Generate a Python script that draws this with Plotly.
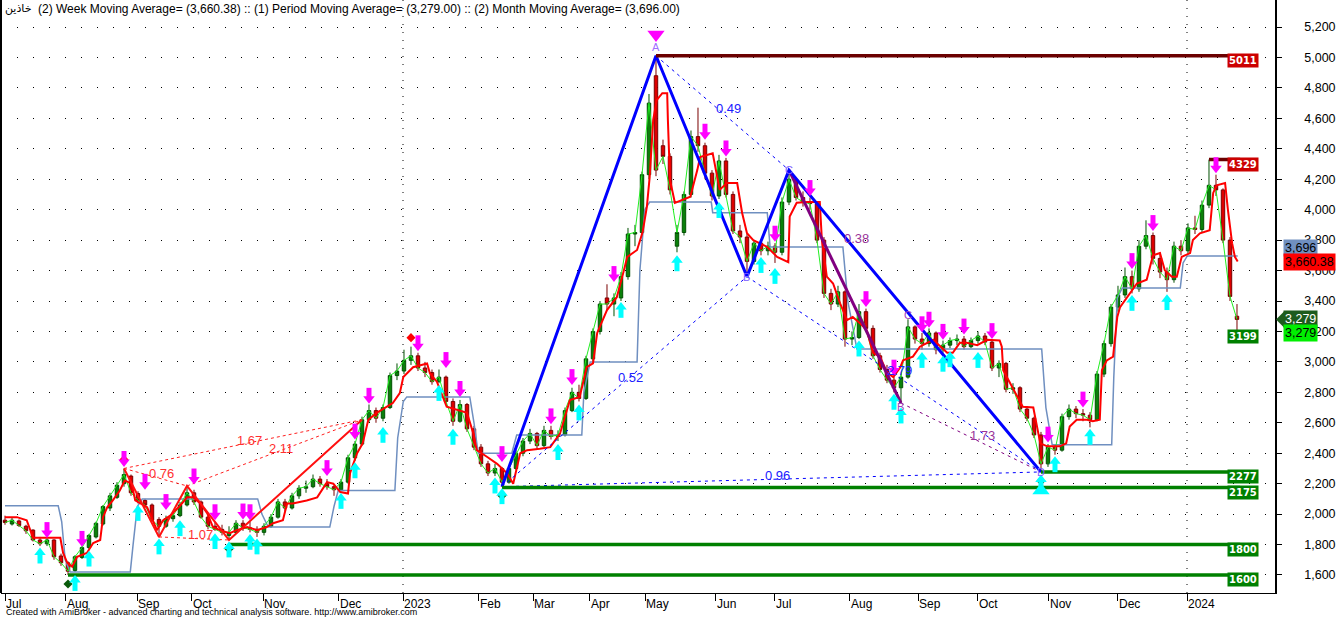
import plotly.graph_objects as go

# ---------------- DATA ----------------
# bars are sampled roughly every second trading day (bar index on x)
opens = [1960,1935,1955,1920,1895,1830,1805,1830,1725,1680,
         1630,1715,1780,1850,1935,2040,2110,2200,2250,2135,
         2090,2060,1965,1920,1970,1990,2060,2140,2080,1980,
         1920,1900,1860,1880,1940,1910,1900,1880,1920,1980,
         2080,2040,2120,2170,2180,2230,2200,2180,2160,2210,
         2370,2460,2620,2680,2630,2700,2910,2940,3010,3040,
         2960,2930,2870,2900,2740,2610,2720,2560,2440,2330,
         2270,2300,2210,2300,2400,2480,2530,2450,2550,2510,
         2520,2680,2800,2760,3020,3200,3420,3380,3420,3560,
         3840,3850,4230,4880,4420,4350,3760,3850,4100,4480,
         4420,4240,4090,4320,4100,3860,3820,3660,3780,3730,
         3760,3720,4050,4200,4080,4050,4040,3800,3450,3380,
         3460,3150,3160,3330,3220,3040,2950,2880,2830,2900,
         3230,3150,3120,3190,3080,3110,3140,3150,3100,3140,
         3170,3130,2960,2990,2820,2830,2690,2630,2520,2330,
         2440,2420,2640,2690,2660,2650,2620,2920,3120,3360,
         3440,3560,3480,3760,3830,3680,3590,3540,3760,3730,
         3880,3870,4030,4160,4130,3800,3300]
highs = [1990,1975,1965,1930,1900,1850,1840,1835,1740,1690,
         1730,1790,1870,1950,2060,2140,2210,2300,2260,2150,
         2100,2070,1980,1990,2020,2080,2185,2160,2090,1990,
         1950,1930,1920,1960,1960,1950,1920,1940,2000,2100,
         2100,2140,2190,2220,2260,2250,2230,2190,2230,2390,
         2480,2640,2720,2700,2720,2930,2990,3080,3100,3060,
         3000,2950,2950,2910,2760,2750,2730,2580,2460,2350,
         2330,2310,2320,2420,2500,2560,2540,2580,2580,2550,
         2700,2830,2850,3040,3220,3400,3510,3450,3590,3880,
         3900,4250,4760,5011,4460,4370,3900,4120,4520,4670,
         4440,4260,4360,4340,4120,3900,3840,3800,3800,3790,
         3780,4080,4260,4210,4120,4080,4050,3820,3480,3500,
         3470,3200,3380,3350,3240,3060,2980,2900,2920,3280,
         3240,3190,3220,3200,3140,3160,3180,3170,3160,3200,
         3190,3140,3010,3000,2860,2840,2710,2640,2540,2460,
         2460,2660,2720,2710,2690,2670,2940,3140,3380,3500,
         3620,3600,3800,3930,3850,3720,3620,3790,3800,3910,
         3960,4060,4329,4230,4140,3820,3380]
lows = [1930,1925,1915,1870,1820,1790,1790,1700,1660,1600,
        1620,1705,1770,1840,1925,2020,2100,2180,2120,2070,
        2040,1950,1850,1910,1950,1980,2050,2060,1970,1900,
        1890,1860,1830,1870,1890,1880,1850,1860,1910,1970,
        2020,2030,2100,2140,2170,2180,2160,2120,2150,2200,
        2350,2450,2600,2600,2610,2690,2880,2920,2980,2940,
        2900,2850,2860,2720,2580,2600,2540,2420,2310,2250,
        2250,2180,2200,2290,2380,2460,2430,2440,2490,2480,
        2510,2670,2740,2750,3000,3180,3340,3300,3400,3540,
        3760,3840,4200,4220,4300,4100,3720,3830,4080,4380,
        4200,4060,4070,4080,3840,3780,3560,3640,3700,3700,
        3650,3700,4030,4060,4020,4000,3780,3420,3340,3360,
        3100,3110,3150,3200,3020,2930,2860,2800,2730,2890,
        3120,3080,3100,3050,3060,3090,3110,3080,3090,3120,
        3110,2940,2900,2800,2790,2670,2610,2500,2277,2310,
        2390,2410,2620,2630,2610,2570,2610,2900,3100,3330,
        3420,3450,3460,3740,3640,3550,3460,3520,3700,3710,
        3840,3850,4010,4090,3780,3400,3199]
closes = [1945,1960,1925,1890,1830,1805,1830,1720,1680,1625,
          1720,1780,1860,1940,2050,2120,2190,2260,2140,2090,
          2060,1960,1920,1970,1990,2060,2140,2080,1980,1920,
          1900,1880,1880,1940,1910,1900,1880,1920,1980,2080,
          2040,2120,2170,2180,2230,2200,2180,2160,2210,2370,
          2460,2620,2680,2630,2700,2910,2940,3010,3040,2960,
          2930,2870,2900,2740,2610,2720,2560,2440,2330,2270,
          2300,2210,2300,2400,2480,2530,2450,2550,2510,2520,
          2680,2800,2760,3020,3200,3380,3380,3420,3560,3840,
          3850,4230,4700,4260,4350,4130,3850,4100,4480,4420,
          4240,4090,4320,4100,3860,3820,3660,3780,3730,3760,
          3720,4050,4200,4080,4050,4040,3800,3450,3380,3460,
          3150,3160,3330,3220,3040,2950,2880,2830,2900,3230,
          3150,3120,3190,3080,3110,3140,3150,3100,3140,3170,
          3130,2960,2990,2820,2830,2690,2630,2520,2330,2440,
          2420,2640,2690,2660,2650,2620,2920,3120,3360,3440,
          3560,3480,3760,3830,3680,3590,3540,3760,3730,3880,
          3870,4030,4160,4130,3800,3430,3279]

# Week moving average (red)
week_ma_bar = [0, 1.7, 3.1, 3.6, 4.0, 7.9, 8.3, 8.9, 9.6, 10.3,
               11.7, 12.6, 13.6, 14.0, 14.6, 15.4, 16.4, 17.1, 18.1, 18.6,
               19.3, 20.3, 21.1, 21.7, 22.6, 23.6, 25.0, 26.0, 26.9, 27.9,
               28.9, 29.7, 30.7, 32.1, 33.1, 34.6, 36.0, 37.4, 38.3, 39.7,
               40.3, 41.1, 43.1, 44.6, 46.0, 46.9, 47.9, 49.0, 49.3, 50.3,
               51.1, 51.9, 53.1, 54.6, 55.4, 56.4, 56.9, 58.3, 60.3, 60.7,
               61.7, 63.1, 64.6, 66.0, 66.9, 67.4, 68.9, 70.3, 71.7, 72.6,
               73.6, 74.6, 76.4, 77.9, 79.3, 80.7, 82.1, 83.1, 84.0, 84.6,
               86.0, 87.4, 88.3, 88.9, 90.3, 91.1, 91.7, 92.1, 92.6, 93.1,
               93.9, 94.6, 94.7, 95.0, 95.7, 96.7, 97.9, 98.9, 99.3, 101.1,
               101.7, 102.1, 103.1, 104.6, 105.3, 106.0, 106.9, 108.9, 110.3, 111.9,
               112.1, 113.1, 114.6, 116.4, 116.7, 117.4, 118.3, 119.3, 120.3, 121.1,
               122.1, 123.1, 124.0, 125.0, 126.0, 126.9, 127.9, 128.3, 129.7, 130.7,
               132.6, 134.6, 135.4, 136.4, 137.4, 138.9, 140.3, 142.1, 142.4, 142.6,
               143.6, 144.6, 145.4, 146.9, 147.4, 147.9, 148.9, 150.7, 151.6, 152.1,
               153.1, 154.6, 155.4, 156.4, 156.7, 157.4, 158.3, 158.9, 159.3, 160.3,
               161.7, 163.1, 164.0, 165.0, 165.7, 166.7, 167.4, 168.1, 169.3, 169.7,
               170.7, 172.1, 172.6, 173.1, 174.3, 174.7, 175.3, 175.7, 176.1]
week_ma_val = [1980, 1980, 1960, 1895, 1845, 1845, 1745, 1680, 1655, 1720,
               1745, 1810, 1830, 1980, 2045, 2090, 2155, 2220, 2200, 2090,
               2070, 2045, 1960, 1895, 1960, 1990, 2055, 2110, 2110, 2070,
               2005, 1915, 1895, 1875, 1895, 1915, 1895, 1915, 1940, 1960,
               2070, 2070, 2090, 2110, 2210, 2200, 2145, 2135, 2270, 2400,
               2465, 2620, 2665, 2705, 2730, 2795, 2900, 2965, 2990, 2925,
               2870, 2705, 2685, 2665, 2530, 2420, 2375, 2330, 2270, 2200,
               2400, 2420, 2430, 2440, 2530, 2750, 2770, 2965, 2990, 3190,
               3340, 3425, 3580, 3690, 3735, 3855, 4020, 4215, 4590, 4720,
               4765, 4765, 4590, 4195, 4045, 4065, 4085, 4260, 4345, 4370,
               4215, 4130, 4175, 4175, 3980, 3845, 3800, 3755, 3690, 3655,
               3955, 4045, 4050, 4050, 3800, 3560, 3515, 3385, 3275, 3295,
               3255, 3210, 3060, 3035, 2930, 2900, 2965, 3010, 3035, 3100,
               3145, 3060, 3060, 3125, 3125, 3110, 3145, 3140, 3100, 2945,
               2860, 2770, 2705, 2700, 2575, 2465, 2445, 2445, 2465, 2575,
               2620, 2620, 2610, 2620, 2945, 3010, 3035, 3295, 3360, 3425,
               3515, 3540, 3700, 3715, 3600, 3560, 3560, 3690, 3715, 3800,
               3845, 3865, 4110, 4160, 4175, 4000, 3780, 3690, 3660]

# Month moving average (steel blue, step-like)
month_ma_bar = [0, 7.6, 8.1, 8.6, 9.3, 17.9, 18.3, 18.9, 19.6, 36.1,
                36.7, 37.6, 46.4, 47.0, 47.6, 55.7, 56.1, 56.9, 57.4, 66.4,
                67.0, 67.6, 72.4, 73.1, 82.4, 82.7, 83.6, 90.3, 90.7, 91.4,
                92.1, 100.9, 101.1, 108.9, 109.3, 119.7, 120.4, 121.7, 148.1, 148.7,
                149.6, 158.1, 158.4, 158.9, 159.6, 167.9, 168.3, 168.9, 176.1]
month_ma_val = [2055, 2055, 1950, 1700, 1620, 1620, 1800, 2050, 2100, 2100,
                2000, 1915, 1915, 2050, 2155, 2155, 2500, 2740, 2770, 2770,
                2600, 2400, 2400, 2520, 2520, 2800, 3000, 3000, 3600, 4000,
                4050, 4050, 3980, 3980, 3755, 3755, 3400, 3085, 3085, 2700,
                2455, 2455, 2900, 3420, 3485, 3485, 3650, 3696, 3696]

# x axis month ticks (bar index where each month starts)
month_tick_pos = [0, 8.71, 18.86, 26.71, 36.86, 47.71, 56.86, 67.71, 75.43, 83.57,
                  91.43, 101.57, 110, 120.71, 130.43, 139, 149.14, 159, 168.86]
month_tick_text = ["Jul", "Aug", "Sep", "Oct", "Nov", "Dec", "2023", "Feb", "Mar", "Apr",
                   "May", "Jun", "Jul", "Aug", "Sep", "Oct", "Nov", "Dec", "2024"]
year_tick_pos = [56.86, 168.86]

# harmonic pattern (XABCD)
pat_bars = [71, 93, 106, 112, 148]
pat_prices = [2180, 5011, 3560, 4260, 2277]
pat_names = ["X", "A", "B", "C", "D"]
pat_ratio_pairs = [(0, 2, "0.52"), (1, 3, "0.49"), (2, 4, "2.79"), (0, 4, "0.96")]
# second (purple) leg
sub_bars = [112, 128]
sub_prices = [4260, 2730]
sub_c_bar, sub_c_price = 129, 3280
sub_ratio_labels = ["0.38", "1.73"]
# small red pattern on the left
red_pat_bars = [17, 22, 26, 32, 51]
red_pat_prices = [2300, 1850, 2185, 1830, 2620]
red_ratio_pairs = [(0, 2, "0.76"), (1, 3, "1.07"), (0, 4, "1.67"), (2, 4, "2.11")]

# pivot markers
pivot_low_bars = [9, 32, 71, 148]
pivot_high_bars = [17, 58]

# signal arrows (tip price)
sell_bars = [6, 11, 17, 20, 23, 27, 30, 34, 35, 46, 50, 52, 59, 63, 65, 71, 78, 81, 87,
             100, 103, 110, 115, 123, 127, 131, 132, 134, 137, 141, 149, 154, 161, 164, 173]
sell_tips = [1843, 1785, 2310, 2160, 2027, 2195, 1960, 1965, 1960, 2250, 2490, 2725, 3070, 2960,
             2770, 2342, 2590, 2848, 3525, 4460, 4350, 3790, 4090, 3360, 2910, 3195, 3225, 3145,
             3180, 3150, 2470, 2700, 3610, 3860, 4240]
buy_bars = [5, 10, 12, 19, 22, 25, 30, 32, 35, 36, 48, 50, 54, 62, 64, 70, 71, 79, 82, 88,
            96, 102, 108, 110, 122, 127, 128, 131, 134, 135, 139, 148, 150, 155, 161, 166]
buy_tips = [1780, 1600, 1760, 2060, 1840, 1960, 1875, 1820, 1870, 1840, 2139, 2340, 2573, 2848,
            2560, 2240, 2170, 2460, 2720, 3394, 3700, 4050, 3689, 3617, 3140, 2790, 2700, 3065,
            3040, 3070, 3065, 2260, 2380, 2560, 3440, 3445]
big_sell_bar, big_sell_tip = 93, 5101
big_buy_bar, big_buy_tip = 148, 2204

# support / resistance levels
level_values = [5011, 4329, 2277, 2175, 1800, 1600]
level_start = [93, 172, 148, 71, 32, 9]
level_colors = ["#6b0000", "#6b0000", "#008000", "#008000", "#008000", "#008000"]
level_label_bg = ["#cc0000", "#cc0000", "#008000", "#008000", "#008000", "#008000"]
last_low_label = 3199

week_ma_last, period_ma_last, month_ma_last = 3660.38, 3279.00, 3696.00
ticker = "خاذین"

# ---------------- LAYOUT GEOMETRY ----------------
W, H = 1336, 619
ML, MR, MT, MB = 1, 61, 0, 26
PLOT_W = W - ML - MR
PLOT_H = H - MT - MB
Y_MIN, Y_MAX = 1481.7, 5377.4
X_MIN, X_MAX = -0.571, 181.43
PY = (Y_MAX - Y_MIN) / PLOT_H          # price units per pixel
n = len(closes)
x = list(range(n))
x_end = n - 1 + 0.45
FONT = "Liberation Sans, Arial"


def px_to_paper_x(p):
    return (p - ML) / PLOT_W


def px_to_paper_y(p):
    return (H - MB - p) / PLOT_H


fig = go.Figure()

# month MA
fig.add_trace(go.Scatter(x=month_ma_bar, y=month_ma_val, mode="lines",
                         line=dict(color="#6f8fc0", width=1.5), hoverinfo="skip"))
# period MA (close)
fig.add_trace(go.Scatter(x=x, y=closes, mode="lines",
                         line=dict(color="#22ee22", width=1), hoverinfo="skip"))
# candles
fig.add_trace(go.Candlestick(x=x, open=opens, high=highs, low=lows, close=closes,
                             increasing=dict(line=dict(color="#005000", width=1), fillcolor="#0a800a"),
                             decreasing=dict(line=dict(color="#7a0000", width=1), fillcolor="#dd0000"),
                             whiskerwidth=0, hoverinfo="skip"))
# week MA
fig.add_trace(go.Scatter(x=week_ma_bar, y=week_ma_val, mode="lines",
                         line=dict(color="#ff0000", width=2), hoverinfo="skip"))

# red small pattern
fig.add_trace(go.Scatter(x=red_pat_bars, y=red_pat_prices, mode="lines",
                         line=dict(color="#ff1010", width=2), hoverinfo="skip"))
for i, j, lab in red_ratio_pairs:
    fig.add_trace(go.Scatter(x=[red_pat_bars[i], red_pat_bars[j]],
                             y=[red_pat_prices[i], red_pat_prices[j]], mode="lines",
                             line=dict(color="#ff2020", width=1, dash="3px,3px"), hoverinfo="skip"))
    fig.add_annotation(x=(red_pat_bars[i] + red_pat_bars[j]) / 2,
                       y=(red_pat_prices[i] + red_pat_prices[j]) / 2,
                       text=lab, showarrow=False, xshift=6, yshift=4,
                       font=dict(color="#ff3030", size=13, family=FONT))

# XABCD pattern
for i, j, lab in pat_ratio_pairs:
    fig.add_trace(go.Scatter(x=[pat_bars[i], pat_bars[j]], y=[pat_prices[i], pat_prices[j]],
                             mode="lines", line=dict(color="#0000ff", width=1, dash="3px,4px"),
                             hoverinfo="skip"))
    fig.add_annotation(x=(pat_bars[i] + pat_bars[j]) / 2, y=(pat_prices[i] + pat_prices[j]) / 2,
                       text=lab, showarrow=False, xshift=6, yshift=4,
                       font=dict(color="#2020ff", size=13, family=FONT))
fig.add_trace(go.Scatter(x=[sub_bars[1], pat_bars[4]], y=[sub_prices[1], pat_prices[4]],
                         mode="lines", line=dict(color="#800080", width=1, dash="3px,4px"),
                         hoverinfo="skip"))
fig.add_annotation(x=(sub_bars[1] + pat_bars[4]) / 2, y=(sub_prices[1] + pat_prices[4]) / 2,
                   text=sub_ratio_labels[1], showarrow=False, xshift=12, yshift=2,
                   font=dict(color="#993399", size=13, family=FONT))
fig.add_annotation(x=(pat_bars[3] + sub_c_bar) / 2, y=(pat_prices[3] + sub_c_price) / 2,
                   text=sub_ratio_labels[0], showarrow=False, xshift=8, yshift=6,
                   font=dict(color="#993399", size=13, family=FONT))
fig.add_trace(go.Scatter(x=sub_bars, y=sub_prices, mode="lines",
                         line=dict(color="#800080", width=3), hoverinfo="skip"))
fig.add_trace(go.Scatter(x=pat_bars, y=pat_prices, mode="lines",
                         line=dict(color="#0000ff", width=3), hoverinfo="skip"))
for b, p, nm in zip(pat_bars[2:], pat_prices[2:], pat_names[2:]):
    fig.add_annotation(x=b, y=p, text=nm, showarrow=False,
                       font=dict(color="#8060ff", size=11, family=FONT))
fig.add_annotation(x=sub_c_bar, y=sub_c_price, text="C", showarrow=False, yshift=4,
                   font=dict(color="#a040c0", size=11, family=FONT))
fig.add_annotation(x=sub_bars[1], y=sub_prices[1], text="B", showarrow=False, yshift=-4,
                   font=dict(color="#a040c0", size=11, family=FONT))

# level lines
for v, s, c in zip(level_values, level_start, level_colors):
    fig.add_trace(go.Scatter(x=[s, x_end], y=[v, v], mode="lines",
                             line=dict(color=c, width=3.5), hoverinfo="skip"))

# pivot diamonds
fig.add_trace(go.Scatter(x=pivot_low_bars, y=[lows[b] - 9 * PY for b in pivot_low_bars],
                         mode="markers", marker=dict(symbol="diamond", size=7, color="#0b5a0b"),
                         hoverinfo="skip"))
fig.add_trace(go.Scatter(x=pivot_high_bars, y=[highs[b] + 9 * PY for b in pivot_high_bars],
                         mode="markers", marker=dict(symbol="diamond", size=7, color="#ff0000"),
                         hoverinfo="skip"))

# arrows
HEAD, STEM = 10, 7
fig.add_trace(go.Scatter(x=sell_bars, y=[t + (0.75 * HEAD + STEM / 2) * PY for t in sell_tips],
                         mode="markers", marker=dict(symbol="line-ns", size=STEM,
                                                     line=dict(color="#ff00ff", width=5)),
                         hoverinfo="skip"))
fig.add_trace(go.Scatter(x=sell_bars, y=[t + HEAD / 2 * PY for t in sell_tips], mode="markers",
                         marker=dict(symbol="triangle-down", size=HEAD, color="#ff00ff",
                                     line=dict(width=0)), hoverinfo="skip"))
fig.add_trace(go.Scatter(x=buy_bars, y=[t - (0.75 * HEAD + STEM / 2) * PY for t in buy_tips],
                         mode="markers", marker=dict(symbol="line-ns", size=STEM,
                                                     line=dict(color="#00ffff", width=5)),
                         hoverinfo="skip"))
fig.add_trace(go.Scatter(x=buy_bars, y=[t - HEAD / 2 * PY for t in buy_tips], mode="markers",
                         marker=dict(symbol="triangle-up", size=HEAD, color="#00ffff",
                                     line=dict(width=0)), hoverinfo="skip"))
BIG = 15
fig.add_trace(go.Scatter(x=[big_sell_bar], y=[big_sell_tip + BIG / 2 * PY], mode="markers",
                         marker=dict(symbol="triangle-down", size=BIG, color="#ff00ff",
                                     line=dict(width=0)), hoverinfo="skip"))
fig.add_trace(go.Scatter(x=[big_buy_bar], y=[big_buy_tip - BIG / 2 * PY], mode="markers",
                         marker=dict(symbol="triangle-up", size=BIG, color="#00ffff",
                                     line=dict(width=0)), hoverinfo="skip"))
fig.add_annotation(x=big_sell_bar, y=pat_prices[1], text="A", showarrow=False, yshift=9,
                   font=dict(color="#a070ff", size=11, family=FONT))

# year separators
for yp in year_tick_pos:
    fig.add_shape(type="line", x0=yp, x1=yp, y0=0, y1=1, xref="x", yref="paper",
                  line=dict(color="black", width=1, dash="1px,7px"), layer="below")
# left border
fig.add_shape(type="line", x0=0, x1=0, y0=0, y1=1, xref="paper", yref="paper",
              line=dict(color="black", width=2))

# level labels
lab_x = px_to_paper_x(1258.5)
for v, bg in zip(level_values + [last_low_label], level_label_bg + ["#008000"]):
    fig.add_annotation(x=lab_x, y=v, xref="paper", yref="y", text="<b>%d</b>" % v,
                       showarrow=False, yshift=-5, bgcolor=bg, borderpad=1,
                       font=dict(color="white", size=10, family="DejaVu Sans"))

# right-axis value boxes
box_x = px_to_paper_x(1283)
fig.add_annotation(x=box_x, y=month_ma_last, xref="paper", yref="y", xanchor="left",
                   text="{:,.0f}".format(month_ma_last), showarrow=False, yshift=8,
                   bgcolor="#7090c0", borderpad=1,
                   font=dict(color="black", size=12.5, family=FONT))
fig.add_annotation(x=box_x, y=week_ma_last, xref="paper", yref="y", xanchor="left",
                   text="{:,.2f}".format(week_ma_last), showarrow=False, yshift=-1,
                   bgcolor="#ff0000", borderpad=1,
                   font=dict(color="black", size=12.5, family=FONT))
fig.add_annotation(x=box_x, y=period_ma_last, xref="paper", yref="y", xanchor="left",
                   text="{:,.0f}".format(period_ma_last), showarrow=False,
                   bgcolor="#1d5c1d", borderpad=1,
                   font=dict(color="white", size=12.5, family=FONT))
fig.add_shape(type="path", xref="paper", yref="y",
              path="M {a},{y1} L {b},{ym} L {a},{y2} Z".format(
                  a=px_to_paper_x(1284), b=px_to_paper_x(1276),
                  y1=period_ma_last + 8 * PY, ym=period_ma_last, y2=period_ma_last - 8 * PY),
              fillcolor="#1d5c1d", line=dict(width=0))
fig.add_annotation(x=box_x, y=period_ma_last, xref="paper", yref="y", xanchor="left",
                   text="{:,.0f}".format(period_ma_last), showarrow=False, yshift=-14,
                   bgcolor="#00ee00", borderpad=1,
                   font=dict(color="black", size=12.5, family=FONT))

# title (ticker, then the indicator values)
fig.add_annotation(x=px_to_paper_x(3), y=px_to_paper_y(9), xref="paper", yref="paper",
                   xanchor="left", yanchor="middle", showarrow=False, text=ticker,
                   font=dict(color="black", size=11, family="DejaVu Sans"))
fig.add_annotation(x=px_to_paper_x(36), y=px_to_paper_y(9), xref="paper", yref="paper",
                   xanchor="left", yanchor="middle", showarrow=False,
                   text="(2) Week Moving Average= (%s) :: (1) Period Moving Average= (%s) :: (2) Month Moving Average= (%s)"
                        % ("{:,.2f}".format(week_ma_last), "{:,.2f}".format(period_ma_last),
                           "{:,.2f}".format(month_ma_last)),
                   font=dict(color="black", size=12, family=FONT))
# credit
fig.add_annotation(x=px_to_paper_x(4), y=px_to_paper_y(612), xref="paper", yref="paper",
                   xanchor="left", yanchor="middle", showarrow=False,
                   text="Created with AmiBroker - advanced charting and technical analysis software. http://www.amibroker.com",
                   font=dict(color="black", size=9, family=FONT))

fig.update_layout(
    width=W, height=H, margin=dict(l=ML, r=MR, t=MT, b=MB),
    paper_bgcolor="white", plot_bgcolor="white", showlegend=False,
    font=dict(family=FONT, size=12, color="black"),
    xaxis=dict(range=[X_MIN, X_MAX], showgrid=False, zeroline=False, showline=True,
               linecolor="black", linewidth=1, ticks="outside", ticklen=7, tickcolor="black",
               tickvals=month_tick_pos, ticktext=month_tick_text,
               ticklabelposition="outside right", rangeslider=dict(visible=False),
               tickfont=dict(size=12)),
    yaxis=dict(range=[Y_MIN, Y_MAX], side="right", showgrid=True, gridcolor="black",
               griddash="1px,15px", gridwidth=1, zeroline=False, showline=True,
               linecolor="black", linewidth=1.5, ticks="outside", ticklen=5, tickcolor="black",
               tickvals=list(range(1600, 5201, 200)), tickformat=",",
               ticklabelstandoff=20, tickfont=dict(size=12.5)),
)

fig.write_html("out.html", config={"displayModeBar": False},
               post_script="document.body.style.margin='0px';")
